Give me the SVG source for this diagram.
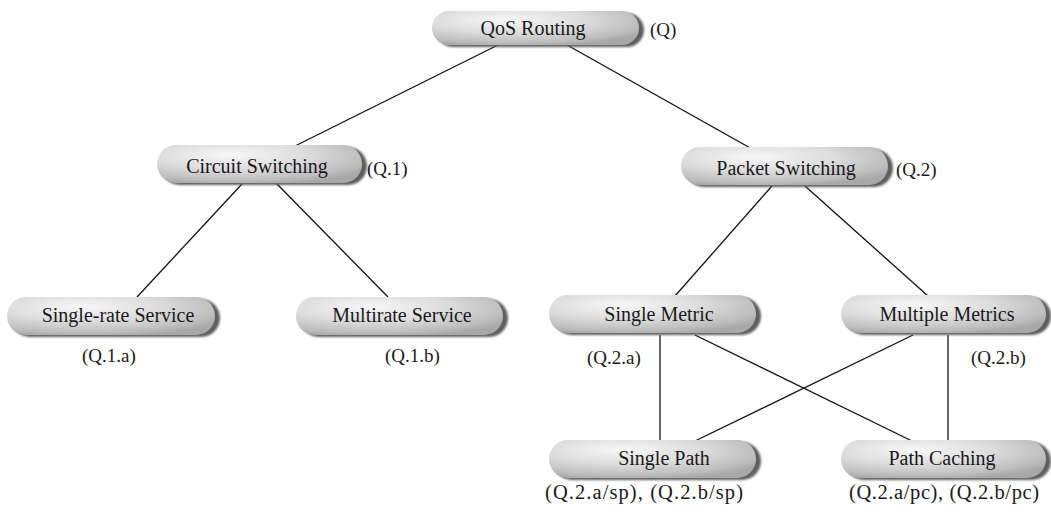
<svg xmlns="http://www.w3.org/2000/svg" width="1051" height="516" viewBox="0 0 1051 516">
<defs>
<radialGradient id="pillFill" cx="0.38" cy="0.3" r="0.75" fx="0.35" fy="0.25">
<stop offset="0" stop-color="#f7f7f7"/>
<stop offset="0.5" stop-color="#dcdcdc"/>
<stop offset="0.85" stop-color="#bdbdbd"/>
<stop offset="1" stop-color="#a8a8a8"/>
</radialGradient>
<filter id="soft" x="-5%" y="-20%" width="110%" height="140%">
<feGaussianBlur stdDeviation="1.2"/>
</filter>
</defs>
<style>
.shadow{fill:#5e5e5e;filter:url(#soft)}
.pill{fill:url(#pillFill)}
.t{font-family:"Liberation Serif","Times New Roman",serif;font-size:20px;fill:#1a1a1a;text-anchor:middle}
.lbl{font-family:"Liberation Serif","Times New Roman",serif;font-size:19px;fill:#1a1a1a}
.wide{font-size:20.5px}
.c{stroke:#111;stroke-width:1.3;fill:none}
</style>
<rect width="1051" height="516" fill="#ffffff"/>
<g id="connectors">
<line class="c" x1="498" y1="45" x2="293" y2="147"/>
<line class="c" x1="567" y1="45" x2="752" y2="149"/>
<line class="c" x1="242" y1="184" x2="137" y2="297"/>
<line class="c" x1="277" y1="184" x2="388" y2="297"/>
<line class="c" x1="772" y1="186" x2="675" y2="296"/>
<line class="c" x1="805" y1="186" x2="928" y2="296"/>
<line class="c" x1="660" y1="335" x2="660" y2="441"/>
<line class="c" x1="695" y1="335" x2="912" y2="441"/>
<line class="c" x1="913" y1="335" x2="695" y2="441"/>
<line class="c" x1="948" y1="335" x2="948" y2="441"/>
</g>
<g id="node-q">
<rect class="shadow" x="436" y="13" width="208" height="34" rx="17"/>
<rect class="pill" x="432" y="11" width="207" height="34" rx="17"/>
<text class="t" x="533" y="35">QoS Routing</text>
<text class="lbl" x="650" y="36">(Q)</text>
</g>
<g id="node-q1">
<rect class="shadow" x="161" y="147" width="206" height="38" rx="19"/>
<rect class="pill" x="157" y="145" width="205" height="38" rx="19"/>
<text class="t" x="257" y="173">Circuit Switching</text>
<text class="lbl" x="367" y="175">(Q.1)</text>
</g>
<g id="node-q2">
<rect class="shadow" x="685" y="149" width="208" height="38" rx="19"/>
<rect class="pill" x="681" y="147" width="207" height="38" rx="19"/>
<text class="t" x="786" y="175">Packet Switching</text>
<text class="lbl" x="896" y="176">(Q.2)</text>
</g>
<g id="node-q1a">
<rect class="shadow" x="11" y="299" width="209" height="38" rx="19"/>
<rect class="pill" x="7" y="297" width="208" height="38" rx="19"/>
<text class="t" x="118" y="322">Single-rate Service</text>
<text class="lbl" x="82" y="362">(Q.1.a)</text>
</g>
<g id="node-q1b">
<rect class="shadow" x="300" y="299" width="208" height="38" rx="19"/>
<rect class="pill" x="296" y="297" width="207" height="38" rx="19"/>
<text class="t" x="402" y="322">Multirate Service</text>
<text class="lbl" x="385" y="362">(Q.1.b)</text>
</g>
<g id="node-q2a">
<rect class="shadow" x="553" y="297" width="208" height="38" rx="19"/>
<rect class="pill" x="549" y="295" width="207" height="38" rx="19"/>
<text class="t" x="659" y="321">Single Metric</text>
<text class="lbl" x="587" y="364">(Q.2.a)</text>
</g>
<g id="node-q2b">
<rect class="shadow" x="845" y="297" width="206" height="38" rx="19"/>
<rect class="pill" x="841" y="295" width="205" height="38" rx="19"/>
<text class="t" x="947" y="321">Multiple Metrics</text>
<text class="lbl" x="971" y="364">(Q.2.b)</text>
</g>
<g id="node-sp">
<rect class="shadow" x="553" y="442" width="208" height="38" rx="19"/>
<rect class="pill" x="549" y="440" width="207" height="38" rx="19"/>
<text class="t" x="664" y="465">Single Path</text>
<text class="lbl wide" x="545" y="499" textLength="198" lengthAdjust="spacing">(Q.2.a/sp), (Q.2.b/sp)</text>
</g>
<g id="node-pc">
<rect class="shadow" x="845" y="442" width="206" height="38" rx="19"/>
<rect class="pill" x="841" y="440" width="205" height="38" rx="19"/>
<text class="t" x="942" y="465">Path Caching</text>
<text class="lbl wide" x="849" y="499" textLength="190" lengthAdjust="spacing">(Q.2.a/pc), (Q.2.b/pc)</text>
</g>
</svg>
